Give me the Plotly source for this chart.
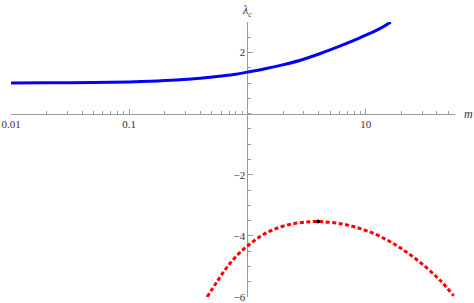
import numpy as np
import plotly.graph_objects as go

# Blue solid branch
blue_m = [0.01, 0.02, 0.05, 0.1, 0.15, 0.25, 0.4, 0.6, 0.8, 1.0, 1.29, 1.9, 2.81, 4.14, 6.11, 9.02, 13.3, 16.3]
blue_y = [1.005, 1.01, 1.02, 1.04, 1.06, 1.10, 1.16, 1.23, 1.29, 1.36, 1.44, 1.58, 1.75, 1.97, 2.22, 2.49, 2.79, 3.0]

# Red dotted branch
red_m = [0.456, 0.555, 0.673, 0.845, 1.03, 1.29, 1.67, 2.31, 3.2, 3.96, 6.11, 9.02, 13.3, 19.6, 29.0, 42.8, 55.5]
red_y = [-6.0, -5.49, -5.02, -4.58, -4.29, -4.01, -3.79, -3.62, -3.545, -3.53, -3.60, -3.76, -4.02, -4.39, -4.87, -5.46, -5.96]

# Peak marker
peak_m = [3.96]
peak_y = [-3.53]

x_major = [0.01, 0.1, 10]
x_major_text = ["0.01", "0.1", "10"]
x_minor = [k * d for d in (0.01, 0.1, 1, 10) for k in range(2, 10) if k * d <= 57]
y_major = [-6, -4, -2, 2]
y_major_text = ["\u22126", "\u22124", "\u22122", "2"]
y_minor = [v / 2 for v in range(-12, 7)]

x_lo, x_hi = -2.0, np.log10(57)
y_lo, y_hi = -6.0, 3.0

fig = go.Figure()
fig.add_trace(go.Scatter(x=blue_m, y=blue_y, mode="lines", line=dict(color="#0000ff", width=3, shape="spline", smoothing=1.0),
                         showlegend=False, hoverinfo="skip"))
fig.add_trace(go.Scatter(x=red_m, y=red_y, mode="lines", line=dict(color="#ff0000", width=3, dash="4px,2.5px", shape="spline", smoothing=1.0),
                         showlegend=False, hoverinfo="skip"))
fig.add_trace(go.Scatter(x=peak_m, y=peak_y, mode="markers", marker=dict(color="black", size=4),
                         showlegend=False, hoverinfo="skip"))

fam = "Liberation Serif, Times New Roman, serif"
font = dict(family=fam, size=11, color="#333333")
axcol = "#9a9a9a"

fig.update_layout(
    width=474, height=303,
    margin=dict(l=11, r=19, t=22, b=6, autoexpand=False),
    plot_bgcolor="white", paper_bgcolor="white",
    font=font,
    xaxis=dict(type="log", range=[x_lo, x_hi], showgrid=False, zeroline=False, automargin=False,
               showline=True, linecolor=axcol, linewidth=1,
               anchor="free", position=(0 - y_lo) / (y_hi - y_lo),
               tickmode="array", tickvals=x_major, ticktext=x_major_text,
               ticks="inside", ticklen=5, tickcolor=axcol, tickwidth=1,
               minor=dict(tickmode="array", tickvals=x_minor, ticks="inside", ticklen=2.5, tickcolor=axcol),
               tickfont=font, layer="below traces"),
    yaxis=dict(range=[y_lo, y_hi], showgrid=False, zeroline=False, automargin=False,
               showline=True, linecolor=axcol, linewidth=1,
               anchor="free", position=(0 - x_lo) / (x_hi - x_lo),
               tickmode="array", tickvals=y_major, ticktext=y_major_text,
               ticks="inside", ticklen=5, tickcolor=axcol, tickwidth=1,
               minor=dict(tickmode="array", tickvals=y_minor, ticks="inside", ticklen=2.5, tickcolor=axcol),
               tickfont=font, layer="below traces"),
)

fig.add_annotation(text="<i>\u03bb<sub>c</sub></i>", xref="paper", yref="paper",
                   x=(0 - x_lo) / (x_hi - x_lo), y=1, xanchor="center", yanchor="bottom",
                   yshift=1, showarrow=False, font=dict(family=fam, size=12, color="#333333"))
fig.add_annotation(text="<i>m</i>", xref="paper", yref="paper",
                   x=1, y=(0 - y_lo) / (y_hi - y_lo), xanchor="left", yanchor="middle",
                   xshift=7, showarrow=False, font=dict(family=fam, size=12, color="#333333"))

fig.write_html("out.html", config={"displayModeBar": False},
               post_script="document.body.style.margin='0';document.body.style.padding='0';")
